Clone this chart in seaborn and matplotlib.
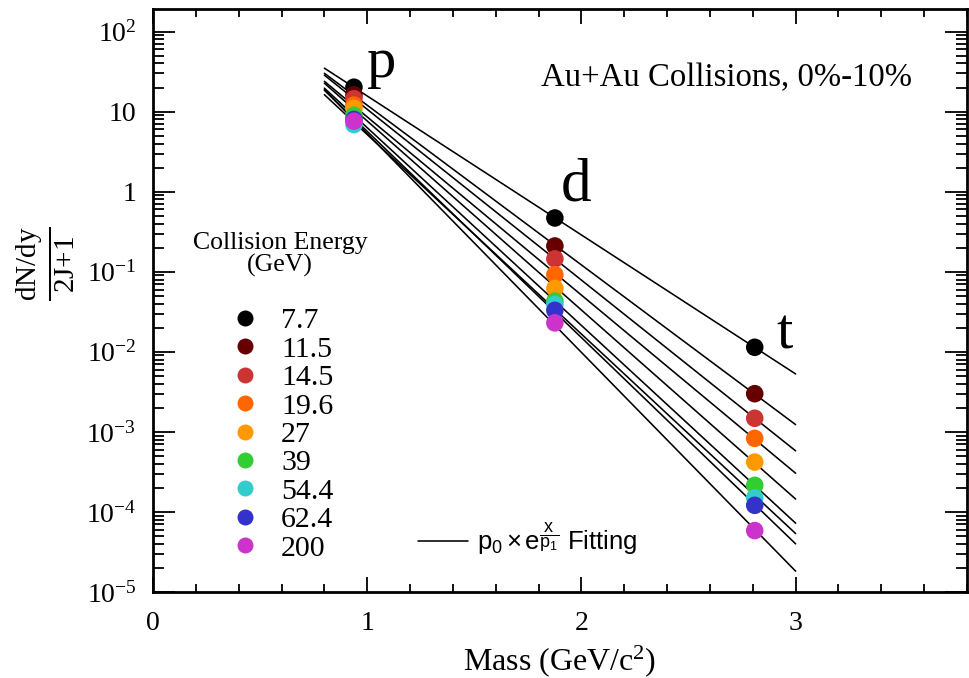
import numpy as np
import pandas as pd
import matplotlib
matplotlib.use("Agg")
import matplotlib.pyplot as plt
import seaborn as sns
from matplotlib.ticker import FixedLocator, FuncFormatter, LogLocator, MultipleLocator, NullFormatter
from matplotlib.lines import Line2D

# ---------------- data ----------------
energies = ["7.7", "11.5", "14.5", "19.6", "27", "39", "54.4", "62.4", "200"]
particles = ["p", "d", "t"]
masses = [0.938, 1.876, 2.809]
proton = [20.2, 16.2, 14.5, 12.1, 11.0, 9.0, 6.9, 8.0, 7.6]
deuteron = [0.47, 0.21, 0.145, 0.092, 0.062, 0.043, 0.039, 0.033, 0.023]
triton = [0.0114, 0.0030, 0.00148, 0.00083, 0.00042, 0.000215, 0.00015, 0.000121, 0.0000585]
colors = ["#000000", "#660000", "#cc3333", "#ff6600", "#ff9900",
          "#33cc33", "#33cccc", "#3333cc", "#cc33cc"]
yticks_vals = [1e-5, 1e-4, 1e-3, 1e-2, 1e-1, 1, 10, 100]
ytick_labels = [r"$10^{-5}$", r"$10^{-4}$", r"$10^{-3}$", r"$10^{-2}$", r"$10^{-1}$", "1", "10", r"$10^{2}$"]
xticks_vals = [0, 1, 2, 3]

rows = []
for i, e in enumerate(energies):
    for m, v in zip(masses, [proton[i], deuteron[i], triton[i]]):
        rows.append({"energy": e, "mass": m, "yield": v})
df = pd.DataFrame(rows)

# fit lines y = p0 * exp(x/p1) from the data (fit in log space)
fit_rows = []
xfit = np.linspace(0.8, 3.0, 60)
for i, e in enumerate(energies):
    vals = np.log([proton[i], deuteron[i], triton[i]])
    b, a = np.polyfit(masses, vals, 1)
    for x in xfit:
        fit_rows.append({"energy": e, "mass": x, "yield": np.exp(a + b * x)})
fdf = pd.DataFrame(fit_rows)

# ---------------- style ----------------
sns.set_theme(style="ticks")
plt.rcParams["font.family"] = ["Liberation Serif", "DejaVu Serif"]
plt.rcParams["mathtext.fontset"] = "custom"
plt.rcParams["mathtext.rm"] = "Liberation Serif"
plt.rcParams["mathtext.it"] = "Liberation Serif:italic"
plt.rcParams["mathtext.bf"] = "Liberation Serif:bold"
plt.rcParams["mathtext.sf"] = "Liberation Sans"
plt.rcParams["mathtext.default"] = "rm"
for k in ["text.color", "axes.labelcolor", "xtick.color", "ytick.color", "axes.edgecolor"]:
    plt.rcParams[k] = "black"

fig = plt.figure(figsize=(9.69, 6.78), dpi=100)
ax = fig.add_axes([153 / 969, 86 / 678, 814 / 969, (592 - 9.3) / 678])

for e in energies:
    sub = fdf[fdf["energy"] == e]
    sns.lineplot(data=sub, x="mass", y="yield", color="black", lw=1.15, ax=ax,
                 legend=False, zorder=2)

sns.scatterplot(data=df, x="mass", y="yield", hue="energy", hue_order=energies,
                palette=colors, s=160, edgecolor="none", ax=ax, legend=False, zorder=3)

ax.set_yscale("log")
ax.set_xlim(0, 3.8)
ax.set_ylim(1e-5, 190)

ax.yaxis.set_major_locator(FixedLocator(yticks_vals))
ax.yaxis.set_major_formatter(FuncFormatter(lambda v, p: ytick_labels[yticks_vals.index(v)] if v in yticks_vals else ""))
ax.yaxis.set_minor_locator(LogLocator(base=10, subs=np.arange(2, 10), numticks=20))
ax.yaxis.set_minor_formatter(NullFormatter())
ax.xaxis.set_major_locator(FixedLocator(xticks_vals))
ax.xaxis.set_minor_locator(MultipleLocator(0.2))

ax.tick_params(which="both", direction="in", top=True, right=True, colors="black")
ax.tick_params(axis="y", which="major", length=16, width=1.3, labelsize=20, pad=12)
ax.tick_params(axis="y", which="minor", length=8, width=1.3)
ax.tick_params(axis="x", which="major", length=11, width=1.3, labelsize=20, pad=14)
ax.tick_params(axis="x", which="minor", length=6, width=1.3)
for sp in ax.spines.values():
    sp.set_linewidth(2.0)
    sp.set_color("black")

ax.set_xlabel(r"Mass (GeV/c$^{2}$)", fontsize=23, labelpad=5)
ax.set_ylabel("")
fig.text(45 / 969, 1 - 264 / 678, r"$\frac{\mathrm{dN/dy}}{\mathrm{2J{+}1}}$", rotation=90,
         fontsize=30, ha="center", va="center")

# particle labels
ax.text(1.0, 41, "p", fontsize=42, ha="left", va="center")
ax.text(1.977, 1.18, "d", fontsize=44, ha="center", va="center")
ax.text(2.95, 0.0166, "t", fontsize=42, ha="center", va="center")

ax.text(0.932, 0.882, "Au+Au Collisions, 0%-10%", transform=ax.transAxes,
        fontsize=23.6, ha="right", va="center")

# energy legend
handles = [Line2D([], [], marker="o", linestyle="none", markersize=11.5,
                  markerfacecolor=c, markeredgecolor="none") for c in colors]
leg = ax.legend(handles, energies, title="Collision Energy\n(GeV)", frameon=False,
                loc="upper left", bbox_to_anchor=(28 / 814, (592 - 220) / 582.7),
                fontsize=21.5, title_fontsize=18.5, labelspacing=0.05, handlelength=1.2,
                handletextpad=0.6, borderaxespad=0)
leg.get_title().set_multialignment("center")
leg.get_title().set_linespacing(1.0)
leg._legend_box.sep = 22
ax.add_artist(leg)

# fitting legend
fh = [Line2D([], [], color="black", lw=1.15)]
leg2 = ax.legend(fh, [r"$\mathsf{p_{0}\times e^{\dfrac{x}{p_{1}}}}$ Fitting"], frameon=False,
                 loc="center left", bbox_to_anchor=(255 / 814, (592 - 539) / 582.7),
                 prop={"family": "Liberation Sans", "size": 18.5}, handlelength=1.95,
                 handletextpad=0.35, borderaxespad=0)

fig.savefig("out.png", dpi=100)
